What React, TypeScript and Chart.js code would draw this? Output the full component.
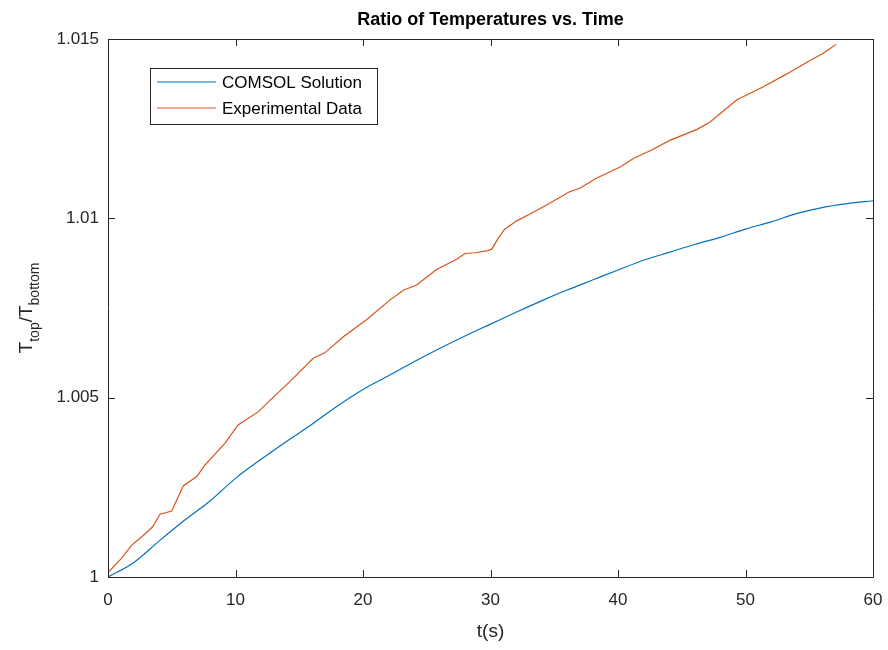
import React, { useEffect, useRef } from "react";
import { Chart, registerables } from "chart.js";

Chart.register(...registerables);

const chartTitle = "Ratio of Temperatures vs. Time";
const xAxisTitle = "t(s)";
const seriesLabels = ["COMSOL Solution", "Experimental Data"];
const xTicks = [0, 10, 20, 30, 40, 50, 60];
const yTicks = [1, 1.005, 1.01, 1.015];

const comsolTime = [0, 2, 4, 6, 8, 10, 12, 14, 16, 18, 20, 22, 24, 26, 28, 30, 32, 34, 36, 38, 40, 42, 44, 46, 48, 50, 52, 54, 56, 58, 60];
const comsolRatio = [1.0, 1.0004, 1.001, 1.00158, 1.00212, 1.00275, 1.00328, 1.00378, 1.00426, 1.00477, 1.00523, 1.00561, 1.006, 1.00637, 1.00672, 1.00705, 1.00738, 1.0077, 1.008, 1.00828, 1.00856, 1.00883, 1.00905, 1.00927, 1.00947, 1.0097, 1.0099, 1.01013, 1.0103, 1.01041, 1.01049];

const expTime = [0, 1, 1.86, 2.9, 3.5, 4.08, 5.0, 5.9, 6.96, 7.6, 9.18, 10.2, 11.8, 12.6, 14.3, 16.1, 17.0, 18.46, 20.3, 22.1, 23.2, 24.2, 25.8, 27.35, 28.0, 28.8, 29.8, 30.1, 30.6, 31.1, 32.05, 33.1, 34.4, 36.2, 37.0, 38.3, 40.2, 41.2, 42.6, 44.1, 46.2, 47.2, 49.3, 51.4, 53.2, 55.1, 56.1, 57.1];
const expRatio = [1.00012, 1.0005, 1.00089, 1.0012, 1.0014, 1.00175, 1.00184, 1.00254, 1.0028, 1.00312, 1.00373, 1.00424, 1.00461, 1.00489, 1.00546, 1.0061, 1.00625, 1.0067, 1.00718, 1.00772, 1.008, 1.00814, 1.00858, 1.00886, 1.00902, 1.00904, 1.0091, 1.00914, 1.00944, 1.00969, 1.00993, 1.01012, 1.01037, 1.01074, 1.01084, 1.01112, 1.01144, 1.01167, 1.0119, 1.01218, 1.01248, 1.01268, 1.0133, 1.01367, 1.01402, 1.01441, 1.0146, 1.01485];

const FONT = "'Liberation Sans', Arial, Helvetica, sans-serif";
const AXIS_COLOR = "#262626";
const colors = ["#0072BD", "#D95319"];

function fmtTick(v: number): string {
  return parseFloat(v.toFixed(4)).toString();
}

const decorPlugin = {
  id: "decor",
  afterDraw(chart: any) {
    const ctx = chart.ctx as CanvasRenderingContext2D;
    const { left, right, top, bottom } = chart.chartArea;
    const xs = chart.scales.x;
    const ys = chart.scales.y;
    ctx.save();
    ctx.strokeStyle = AXIS_COLOR;
    ctx.lineWidth = 1;
    ctx.beginPath();
    ctx.rect(Math.round(left) + 0.5, Math.round(top) + 0.5, Math.round(right - left), Math.round(bottom - top));
    ctx.stroke();
    const tl = 7;
    ctx.beginPath();
    xs.ticks.forEach((t: any) => {
      const px = Math.round(xs.getPixelForValue(t.value)) + 0.5;
      ctx.moveTo(px, bottom);
      ctx.lineTo(px, bottom - tl);
      ctx.moveTo(px, top);
      ctx.lineTo(px, top + tl);
    });
    ys.ticks.forEach((t: any) => {
      const py = Math.round(ys.getPixelForValue(t.value)) + 0.5;
      ctx.moveTo(left, py);
      ctx.lineTo(left + tl, py);
      ctx.moveTo(right, py);
      ctx.lineTo(right - tl, py);
    });
    ctx.stroke();

    const cx = (left + right) / 2;
    ctx.fillStyle = "#000000";
    ctx.font = `bold 18px ${FONT}`;
    ctx.textAlign = "center";
    ctx.textBaseline = "middle";
    ctx.fillText(chartTitle, cx, 20);

    ctx.fillStyle = AXIS_COLOR;
    ctx.font = `19px ${FONT}`;
    ctx.fillText(xAxisTitle, cx, 632);

    const big = `19px ${FONT}`;
    const small = `14px ${FONT}`;
    const parts: [string, boolean][] = [["T", false], ["top", true], ["/T", false], ["bottom", true]];
    let total = 0;
    parts.forEach(([s, sub]) => {
      ctx.font = sub ? small : big;
      total += ctx.measureText(s).width;
    });
    ctx.save();
    const cy = (top + bottom) / 2;
    ctx.translate(32, cy);
    ctx.rotate(-Math.PI / 2);
    ctx.textAlign = "left";
    ctx.textBaseline = "alphabetic";
    let pos = -total / 2;
    parts.forEach(([s, sub]) => {
      ctx.font = sub ? small : big;
      ctx.fillText(s, pos, sub ? 7 : 0);
      pos += ctx.measureText(s).width;
    });
    ctx.restore();

    const lx = 150.5, ly = 68.5, lw = 227, lh = 56;
    ctx.fillStyle = "#ffffff";
    ctx.fillRect(lx, ly, lw, lh);
    ctx.strokeStyle = AXIS_COLOR;
    ctx.lineWidth = 1;
    ctx.strokeRect(lx, ly, lw, lh);
    ctx.font = `17px ${FONT}`;
    ctx.textAlign = "left";
    ctx.textBaseline = "middle";
    chart.data.datasets.forEach((ds: any, i: number) => {
      const yy = 82 + i * 26;
      ctx.strokeStyle = ds.borderColor;
      ctx.lineWidth = 1.2;
      ctx.beginPath();
      ctx.moveTo(157, yy);
      ctx.lineTo(216, yy);
      ctx.stroke();
      ctx.fillStyle = "#000000";
      ctx.fillText(ds.label, 222, yy + 1);
    });
    ctx.restore();
  },
};

export default function App() {
  const ref = useRef<HTMLCanvasElement | null>(null);
  useEffect(() => {
    document.body.style.margin = "0";
    const canvas = ref.current;
    if (!canvas) return;
    const chart = new Chart(canvas, {
      type: "line",
      data: {
        datasets: [
          {
            label: seriesLabels[0],
            data: comsolTime.map((t, i) => ({ x: t, y: comsolRatio[i] })),
            borderColor: colors[0],
            backgroundColor: colors[0],
            borderWidth: 1.2,
            pointRadius: 0,
            tension: 0.4,
            cubicInterpolationMode: "monotone",
          },
          {
            label: seriesLabels[1],
            data: expTime.map((t, i) => ({ x: t, y: expRatio[i] })),
            borderColor: colors[1],
            backgroundColor: colors[1],
            borderWidth: 1.2,
            pointRadius: 0,
            tension: 0,
          },
        ],
      },
      options: {
        animation: false,
        responsive: false,
        events: [],
        layout: { padding: { top: 39, right: 15, bottom: 0, left: 0 } },
        plugins: {
          legend: { display: false },
          title: { display: false },
          tooltip: { enabled: false },
        },
        scales: {
          x: {
            type: "linear",
            min: 0,
            max: 60,
            afterBuildTicks: (s: any) => {
              s.ticks = xTicks.map((v) => ({ value: v }));
            },
            afterFit: (s: any) => {
              s.height = 73;
              s.paddingLeft = 0;
              s.paddingRight = 0;
            },
            grid: { display: false, drawTicks: false },
            border: { display: false },
            ticks: {
              padding: 13,
              color: AXIS_COLOR,
              font: { family: FONT, size: 17 },
              maxRotation: 0,
              callback: (v: any) => fmtTick(Number(v)),
            },
          },
          y: {
            type: "linear",
            min: 1,
            max: 1.015,
            afterBuildTicks: (s: any) => {
              s.ticks = yTicks.map((v) => ({ value: v }));
            },
            afterFit: (s: any) => {
              s.width = 108;
              s.paddingTop = 0;
              s.paddingBottom = 0;
            },
            grid: { display: false, drawTicks: false },
            border: { display: false },
            ticks: {
              padding: 9,
              color: AXIS_COLOR,
              font: { family: FONT, size: 17 },
              callback: (v: any) => fmtTick(Number(v)),
            },
          },
        },
      },
      plugins: [decorPlugin],
    } as any);
    return () => chart.destroy();
  }, []);
  return <canvas ref={ref} width={888} height={650} style={{ display: "block" }} />;
}
